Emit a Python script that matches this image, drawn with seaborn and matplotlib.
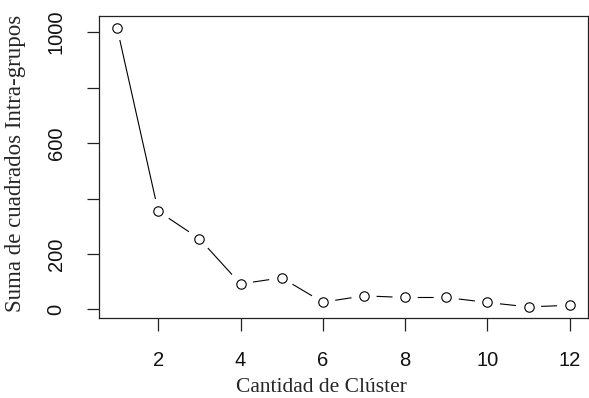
"""
Elbow plot: within-cluster sum of squares vs number of clusters.
"""
import matplotlib
matplotlib.use("Agg")
import matplotlib.pyplot as plt
import numpy as np
import pandas as pd
import seaborn as sns

# data
clusters = [1, 2, 3, 4, 5, 6, 7, 8, 9, 10, 11, 12]
wss = [1016, 354, 255, 92, 114, 26, 49, 43, 43, 25, 9, 15]
y_ticks = [0, 200, 400, 600, 800, 1000]
y_tick_labels = ["0", "200", "", "600", "", "1000"]
x_ticks = [2, 4, 6, 8, 10, 12]

df = pd.DataFrame({"k": clusters, "wss": wss})

sns.set_style("white")
plt.rcParams["font.family"] = ["Liberation Sans", "DejaVu Sans"]

fig = plt.figure(figsize=(5.89, 3.98), dpi=100)
ax = fig.add_axes([0.168, 0.201, 0.830, 0.760])

# line, then white halo to cut gaps (R type="b"), then open circles
sns.lineplot(data=df, x="k", y="wss", color="black", lw=0.8, ax=ax, zorder=1)
sns.scatterplot(data=df, x="k", y="wss", s=330, color="white", edgecolor="none",
                ax=ax, zorder=2)
sns.scatterplot(data=df, x="k", y="wss", s=46, facecolor="white",
                edgecolor="black", linewidth=0.8, ax=ax, zorder=3)

ax.set_xlim(0.56, 12.44)
ax.set_ylim(-31, 1060)
ax.set_xticks(x_ticks)
ax.set_yticks(y_ticks)
ax.set_yticklabels(y_tick_labels, rotation=90, va="center")

ax.tick_params(axis="both", direction="out", length=9, width=0.9, color="#222222",
               labelsize=14.5, labelcolor="#111111", bottom=True, left=True)
ax.tick_params(axis="x", pad=15)
ax.tick_params(axis="y", pad=15)

for s in ax.spines.values():
    s.set_color("#222222")
    s.set_linewidth(0.9)
    s.set_zorder(10)

ax.set_xlabel("Cantidad de Clúster", fontsize=15.5, family="Liberation Serif")
ax.set_ylabel("Suma de cuadrados Intra-grupos", fontsize=16.5,
              family="Liberation Serif")
ax.xaxis.set_label_coords(0.456, -0.2)
ax.yaxis.set_label_coords(-0.15, 0.51)

fig.savefig("out.png", dpi=100)
